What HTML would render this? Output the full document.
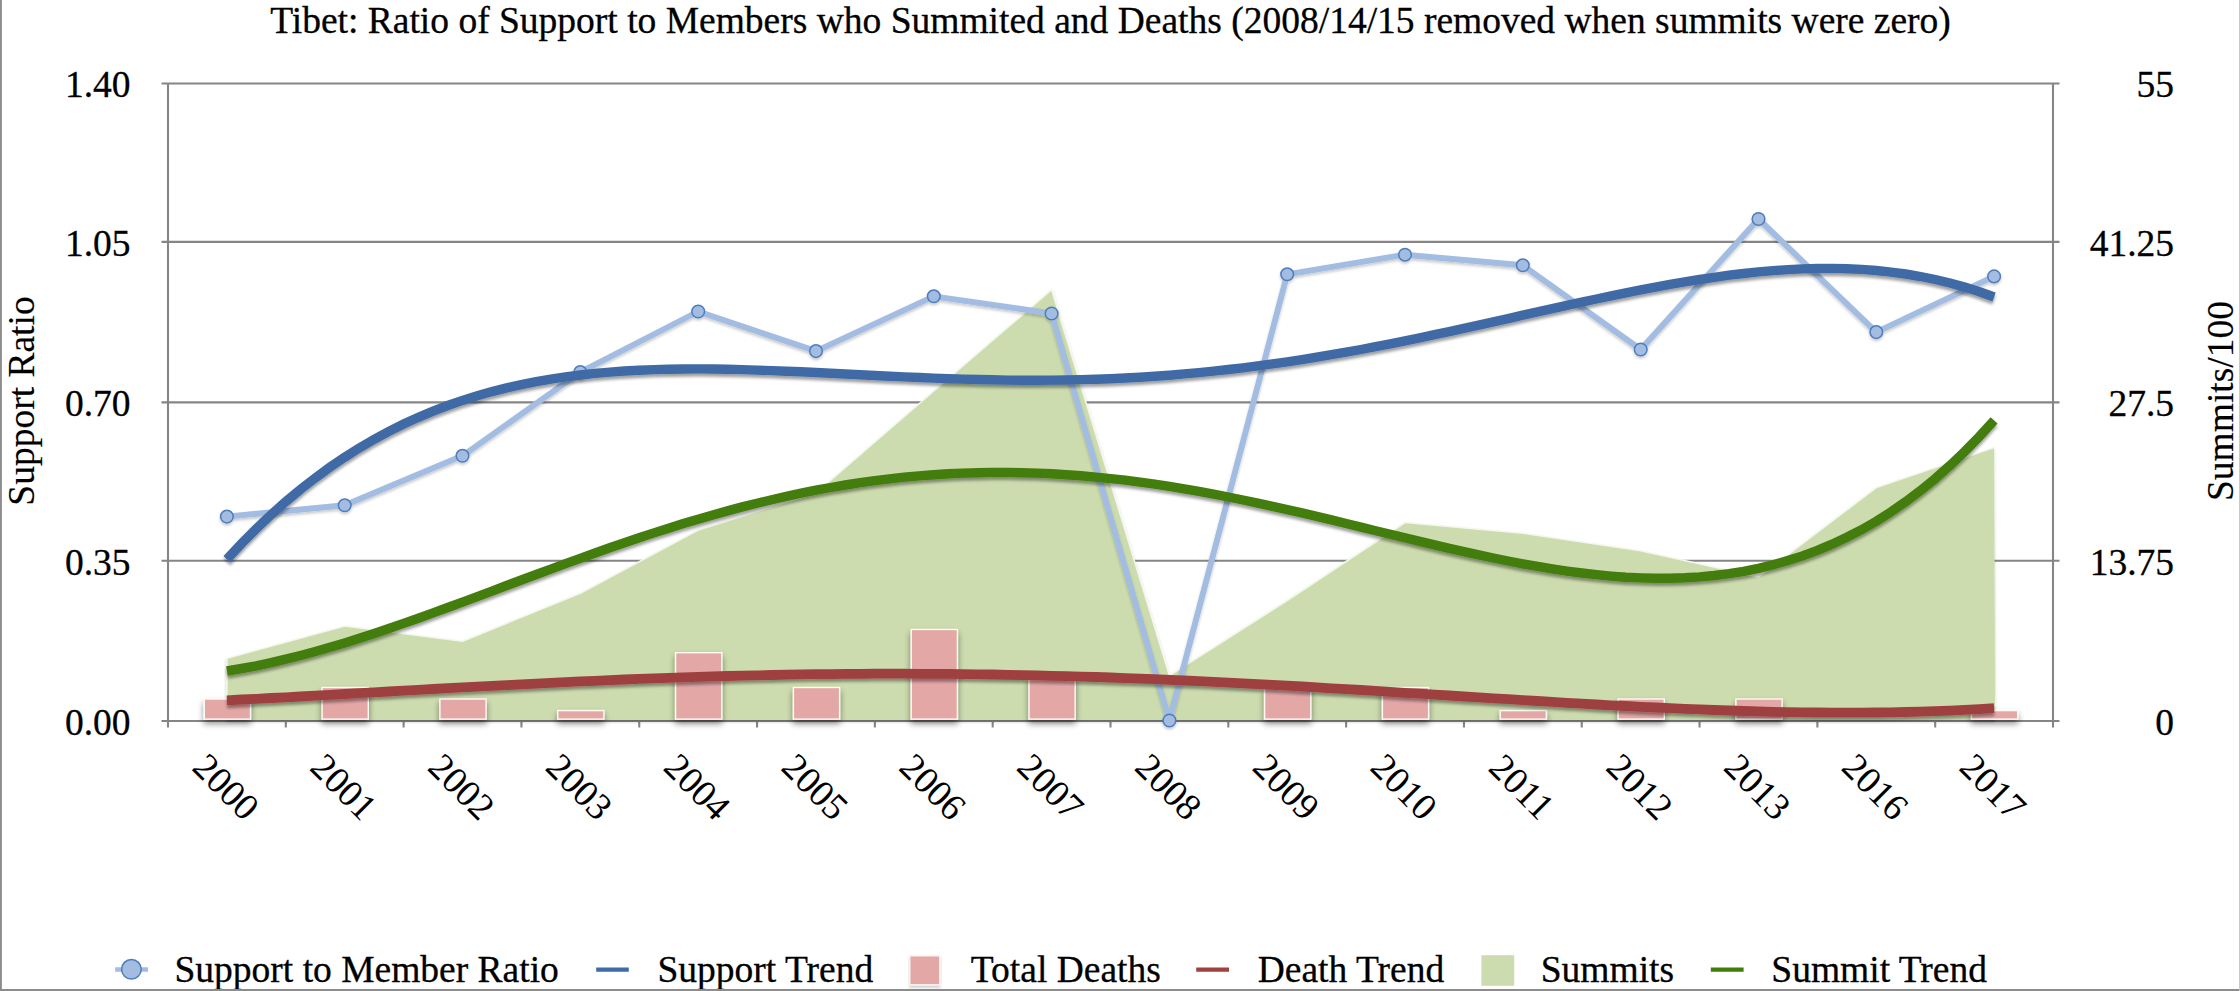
<!DOCTYPE html>
<html><head><meta charset="utf-8"><title>Tibet: Ratio of Support to Members who Summited and Deaths</title>
<style>html,body{margin:0;padding:0;background:#fff;}body{width:2240px;height:991px;overflow:hidden;}svg{display:block;}</style></head>
<body>
<svg width="2240" height="991" viewBox="0 0 2240 991">
<defs>
<filter id="sh" x="-5%" y="-20%" width="110%" height="150%"><feGaussianBlur in="SourceAlpha" stdDeviation="1.8"/><feOffset dx="0" dy="2.6" result="b"/><feComponentTransfer><feFuncA type="linear" slope="0.38"/></feComponentTransfer><feMerge><feMergeNode/><feMergeNode in="SourceGraphic"/></feMerge></filter>
<filter id="shs" x="-5%" y="-20%" width="110%" height="150%"><feGaussianBlur in="SourceAlpha" stdDeviation="1.5"/><feOffset dx="0" dy="2" result="b"/><feComponentTransfer><feFuncA type="linear" slope="0.22"/></feComponentTransfer><feMerge><feMergeNode/><feMergeNode in="SourceGraphic"/></feMerge></filter>
<filter id="shb" x="-20%" y="-20%" width="140%" height="150%"><feGaussianBlur in="SourceAlpha" stdDeviation="3"/><feOffset dx="0" dy="3.6" result="b"/><feComponentTransfer><feFuncA type="linear" slope="0.44"/></feComponentTransfer><feMerge><feMergeNode/><feMergeNode in="SourceGraphic"/></feMerge></filter>
</defs>
<rect x="0" y="0" width="2240" height="991" fill="#fff"/>
<line x1="161.5" y1="83.50" x2="2059.5" y2="83.50" stroke="#858585" stroke-width="2.1"/>
<line x1="161.5" y1="241.90" x2="2059.5" y2="241.90" stroke="#858585" stroke-width="2.1"/>
<line x1="161.5" y1="402.40" x2="2059.5" y2="402.40" stroke="#858585" stroke-width="2.1"/>
<line x1="161.5" y1="560.80" x2="2059.5" y2="560.80" stroke="#858585" stroke-width="2.1"/>
<line x1="161.5" y1="721.00" x2="2059.5" y2="721.00" stroke="#858585" stroke-width="2.1"/>
<line x1="168.0" y1="84.0" x2="168.0" y2="727.5" stroke="#858585" stroke-width="2.1"/>
<line x1="2053.0" y1="84.0" x2="2053.0" y2="727.5" stroke="#858585" stroke-width="2.1"/>
<line x1="285.81" y1="721.0" x2="285.81" y2="727.5" stroke="#858585" stroke-width="2.1"/>
<line x1="403.62" y1="721.0" x2="403.62" y2="727.5" stroke="#858585" stroke-width="2.1"/>
<line x1="521.44" y1="721.0" x2="521.44" y2="727.5" stroke="#858585" stroke-width="2.1"/>
<line x1="639.25" y1="721.0" x2="639.25" y2="727.5" stroke="#858585" stroke-width="2.1"/>
<line x1="757.06" y1="721.0" x2="757.06" y2="727.5" stroke="#858585" stroke-width="2.1"/>
<line x1="874.88" y1="721.0" x2="874.88" y2="727.5" stroke="#858585" stroke-width="2.1"/>
<line x1="992.69" y1="721.0" x2="992.69" y2="727.5" stroke="#858585" stroke-width="2.1"/>
<line x1="1110.50" y1="721.0" x2="1110.50" y2="727.5" stroke="#858585" stroke-width="2.1"/>
<line x1="1228.31" y1="721.0" x2="1228.31" y2="727.5" stroke="#858585" stroke-width="2.1"/>
<line x1="1346.12" y1="721.0" x2="1346.12" y2="727.5" stroke="#858585" stroke-width="2.1"/>
<line x1="1463.94" y1="721.0" x2="1463.94" y2="727.5" stroke="#858585" stroke-width="2.1"/>
<line x1="1581.75" y1="721.0" x2="1581.75" y2="727.5" stroke="#858585" stroke-width="2.1"/>
<line x1="1699.56" y1="721.0" x2="1699.56" y2="727.5" stroke="#858585" stroke-width="2.1"/>
<line x1="1817.38" y1="721.0" x2="1817.38" y2="727.5" stroke="#858585" stroke-width="2.1"/>
<line x1="1935.19" y1="721.0" x2="1935.19" y2="727.5" stroke="#858585" stroke-width="2.1"/>
<g filter="url(#shs)"><polygon points="226.9,719.9 226.9,658.4 344.7,626.1 462.5,641.3 580.3,593.3 698.2,530.0 816.0,493.0 933.8,391.0 1051.6,289.8 1169.4,675.5 1287.2,600.5 1405.0,522.5 1522.8,533.2 1640.7,550.8 1758.5,577.0 1876.3,487.6 1994.1,447.6 1995.1,719.9" fill="#ccdcae"/><polyline points="226.9,719 226.9,658.4 344.7,626.1 462.5,641.3 580.3,593.3 698.2,530.0 816.0,493.0 933.8,391.0 1051.6,289.8 1169.4,675.5 1287.2,600.5 1405.0,522.5 1522.8,533.2 1640.7,550.8 1758.5,577.0 1876.3,487.6 1994.1,447.6" fill="none" stroke="#f4f7ec" stroke-width="1.5" stroke-linejoin="round"/></g>
<g filter="url(#shb)">
<rect x="204.3" y="699.0" width="46.2" height="20.1" fill="#e3a7a6" stroke="#fffaf6" stroke-width="1.4"/>
<rect x="322.1" y="687.5" width="46.2" height="31.6" fill="#e3a7a6" stroke="#fffaf6" stroke-width="1.4"/>
<rect x="439.9" y="699.0" width="46.2" height="20.1" fill="#e3a7a6" stroke="#fffaf6" stroke-width="1.4"/>
<rect x="557.7" y="710.6" width="46.2" height="8.5" fill="#e3a7a6" stroke="#fffaf6" stroke-width="1.4"/>
<rect x="675.6" y="652.7" width="46.2" height="66.4" fill="#e3a7a6" stroke="#fffaf6" stroke-width="1.4"/>
<rect x="793.4" y="687.5" width="46.2" height="31.6" fill="#e3a7a6" stroke="#fffaf6" stroke-width="1.4"/>
<rect x="911.2" y="629.5" width="46.2" height="89.6" fill="#e3a7a6" stroke="#fffaf6" stroke-width="1.4"/>
<rect x="1029.0" y="675.9" width="46.2" height="43.2" fill="#e3a7a6" stroke="#fffaf6" stroke-width="1.4"/>
<rect x="1264.6" y="687.5" width="46.2" height="31.6" fill="#e3a7a6" stroke="#fffaf6" stroke-width="1.4"/>
<rect x="1382.4" y="687.5" width="46.2" height="31.6" fill="#e3a7a6" stroke="#fffaf6" stroke-width="1.4"/>
<rect x="1500.2" y="710.6" width="46.2" height="8.5" fill="#e3a7a6" stroke="#fffaf6" stroke-width="1.4"/>
<rect x="1618.1" y="699.0" width="46.2" height="20.1" fill="#e3a7a6" stroke="#fffaf6" stroke-width="1.4"/>
<rect x="1735.9" y="699.0" width="46.2" height="20.1" fill="#e3a7a6" stroke="#fffaf6" stroke-width="1.4"/>
<rect x="1971.5" y="710.6" width="46.2" height="8.5" fill="#e3a7a6" stroke="#fffaf6" stroke-width="1.4"/>
</g>
<g filter="url(#shs)"><polyline points="226.9,516.6 344.7,505.3 462.5,455.8 580.3,372.1 698.2,311.5 816.0,351.1 933.8,296.3 1051.6,313.5 1169.4,720.5 1287.2,274.3 1405.0,254.7 1522.8,265.3 1640.7,349.5 1758.5,219.0 1876.3,332.1 1994.1,276.4" fill="none" stroke="#a3bce1" stroke-width="5.9" stroke-linejoin="round"/>
<circle cx="226.9" cy="516.6" r="6.3" fill="#a3bce1" stroke="#4f7cbc" stroke-width="1.5"/>
<circle cx="344.7" cy="505.3" r="6.3" fill="#a3bce1" stroke="#4f7cbc" stroke-width="1.5"/>
<circle cx="462.5" cy="455.8" r="6.3" fill="#a3bce1" stroke="#4f7cbc" stroke-width="1.5"/>
<circle cx="580.3" cy="372.1" r="6.3" fill="#a3bce1" stroke="#4f7cbc" stroke-width="1.5"/>
<circle cx="698.2" cy="311.5" r="6.3" fill="#a3bce1" stroke="#4f7cbc" stroke-width="1.5"/>
<circle cx="816.0" cy="351.1" r="6.3" fill="#a3bce1" stroke="#4f7cbc" stroke-width="1.5"/>
<circle cx="933.8" cy="296.3" r="6.3" fill="#a3bce1" stroke="#4f7cbc" stroke-width="1.5"/>
<circle cx="1051.6" cy="313.5" r="6.3" fill="#a3bce1" stroke="#4f7cbc" stroke-width="1.5"/>
<circle cx="1169.4" cy="720.5" r="6.3" fill="#a3bce1" stroke="#4f7cbc" stroke-width="1.5"/>
<circle cx="1287.2" cy="274.3" r="6.3" fill="#a3bce1" stroke="#4f7cbc" stroke-width="1.5"/>
<circle cx="1405.0" cy="254.7" r="6.3" fill="#a3bce1" stroke="#4f7cbc" stroke-width="1.5"/>
<circle cx="1522.8" cy="265.3" r="6.3" fill="#a3bce1" stroke="#4f7cbc" stroke-width="1.5"/>
<circle cx="1640.7" cy="349.5" r="6.3" fill="#a3bce1" stroke="#4f7cbc" stroke-width="1.5"/>
<circle cx="1758.5" cy="219.0" r="6.3" fill="#a3bce1" stroke="#4f7cbc" stroke-width="1.5"/>
<circle cx="1876.3" cy="332.1" r="6.3" fill="#a3bce1" stroke="#4f7cbc" stroke-width="1.5"/>
<circle cx="1994.1" cy="276.4" r="6.3" fill="#a3bce1" stroke="#4f7cbc" stroke-width="1.5"/>
</g>
<g filter="url(#sh)" fill="none" stroke-width="9.4">
<path d="M226.9,559.2 L241.6,543.5 L256.4,528.6 L271.1,514.7 L285.8,501.6 L300.5,489.3 L315.3,477.9 L330.0,467.2 L344.7,457.2 L359.4,447.9 L374.2,439.3 L388.9,431.4 L403.6,424.1 L418.4,417.3 L433.1,411.2 L447.8,405.5 L462.5,400.4 L477.3,395.8 L492.0,391.6 L506.7,387.9 L521.4,384.6 L536.2,381.7 L550.9,379.1 L565.6,376.9 L580.3,375.0 L595.1,373.4 L609.8,372.1 L624.5,371.0 L639.2,370.2 L654.0,369.6 L668.7,369.2 L683.4,369.0 L698.2,368.9 L712.9,369.0 L727.6,369.3 L742.3,369.6 L757.1,370.1 L771.8,370.6 L786.5,371.2 L801.2,371.8 L816.0,372.5 L830.7,373.3 L845.4,374.0 L860.1,374.7 L874.9,375.5 L889.6,376.2 L904.3,376.9 L919.1,377.5 L933.8,378.1 L948.5,378.7 L963.2,379.1 L978.0,379.5 L992.7,379.8 L1007.4,380.1 L1022.1,380.2 L1036.9,380.2 L1051.6,380.1 L1066.3,380.0 L1081.0,379.6 L1095.8,379.2 L1110.5,378.7 L1125.2,378.0 L1140.0,377.2 L1154.7,376.2 L1169.4,375.2 L1184.1,373.9 L1198.9,372.6 L1213.6,371.1 L1228.3,369.5 L1243.0,367.8 L1257.8,365.9 L1272.5,363.9 L1287.2,361.8 L1301.9,359.6 L1316.7,357.2 L1331.4,354.7 L1346.1,352.2 L1360.9,349.5 L1375.6,346.7 L1390.3,343.8 L1405.0,340.9 L1419.8,337.8 L1434.5,334.7 L1449.2,331.6 L1463.9,328.4 L1478.7,325.1 L1493.4,321.9 L1508.1,318.6 L1522.8,315.2 L1537.6,311.9 L1552.3,308.6 L1567.0,305.4 L1581.8,302.1 L1596.5,299.0 L1611.2,295.8 L1625.9,292.8 L1640.7,289.9 L1655.4,287.1 L1670.1,284.4 L1684.8,281.8 L1699.6,279.5 L1714.3,277.3 L1729.0,275.2 L1743.7,273.5 L1758.5,271.9 L1773.2,270.6 L1787.9,269.6 L1802.6,268.9 L1817.4,268.5 L1832.1,268.4 L1846.8,268.7 L1861.6,269.4 L1876.3,270.5 L1891.0,272.1 L1905.7,274.0 L1920.5,276.5 L1935.2,279.5 L1949.9,283.0 L1964.6,287.1 L1979.4,291.8 L1994.1,297.0" stroke="#3f6ba6"/>
<path d="M226.9,700.3 L241.6,699.5 L256.4,698.8 L271.1,698.0 L285.8,697.3 L300.5,696.5 L315.3,695.7 L330.0,694.8 L344.7,694.0 L359.4,693.2 L374.2,692.4 L388.9,691.5 L403.6,690.7 L418.4,689.9 L433.1,689.0 L447.8,688.2 L462.5,687.4 L477.3,686.6 L492.0,685.8 L506.7,685.1 L521.4,684.3 L536.2,683.6 L550.9,682.8 L565.6,682.1 L580.3,681.4 L595.1,680.8 L609.8,680.1 L624.5,679.5 L639.2,678.9 L654.0,678.4 L668.7,677.9 L683.4,677.3 L698.2,676.9 L712.9,676.4 L727.6,676.0 L742.3,675.6 L757.1,675.3 L771.8,675.0 L786.5,674.7 L801.2,674.4 L816.0,674.2 L830.7,674.1 L845.4,673.9 L860.1,673.8 L874.9,673.7 L889.6,673.7 L904.3,673.7 L919.1,673.8 L933.8,673.8 L948.5,673.9 L963.2,674.1 L978.0,674.3 L992.7,674.5 L1007.4,674.8 L1022.1,675.1 L1036.9,675.4 L1051.6,675.8 L1066.3,676.1 L1081.0,676.6 L1095.8,677.0 L1110.5,677.5 L1125.2,678.1 L1140.0,678.6 L1154.7,679.2 L1169.4,679.8 L1184.1,680.5 L1198.9,681.2 L1213.6,681.9 L1228.3,682.6 L1243.0,683.3 L1257.8,684.1 L1272.5,684.9 L1287.2,685.7 L1301.9,686.5 L1316.7,687.4 L1331.4,688.3 L1346.1,689.1 L1360.9,690.0 L1375.6,690.9 L1390.3,691.8 L1405.0,692.8 L1419.8,693.7 L1434.5,694.6 L1449.2,695.5 L1463.9,696.5 L1478.7,697.4 L1493.4,698.3 L1508.1,699.2 L1522.8,700.1 L1537.6,701.0 L1552.3,701.9 L1567.0,702.8 L1581.8,703.6 L1596.5,704.5 L1611.2,705.3 L1625.9,706.0 L1640.7,706.8 L1655.4,707.5 L1670.1,708.2 L1684.8,708.8 L1699.6,709.4 L1714.3,710.0 L1729.0,710.5 L1743.7,711.0 L1758.5,711.4 L1773.2,711.8 L1787.9,712.1 L1802.6,712.3 L1817.4,712.5 L1832.1,712.6 L1846.8,712.6 L1861.6,712.6 L1876.3,712.5 L1891.0,712.3 L1905.7,712.0 L1920.5,711.6 L1935.2,711.1 L1949.9,710.6 L1964.6,709.9 L1979.4,709.1 L1994.1,708.2" stroke="#9f4141" stroke-width="9.8"/>
<path d="M226.9,671.0 L241.6,668.5 L256.4,665.8 L271.1,662.6 L285.8,659.2 L300.5,655.5 L315.3,651.5 L330.0,647.3 L344.7,642.9 L359.4,638.3 L374.2,633.5 L388.9,628.5 L403.6,623.4 L418.4,618.2 L433.1,612.9 L447.8,607.5 L462.5,602.1 L477.3,596.6 L492.0,591.1 L506.7,585.5 L521.4,580.0 L536.2,574.5 L550.9,569.1 L565.6,563.7 L580.3,558.3 L595.1,553.0 L609.8,547.8 L624.5,542.8 L639.2,537.8 L654.0,532.9 L668.7,528.2 L683.4,523.6 L698.2,519.2 L712.9,514.9 L727.6,510.9 L742.3,506.9 L757.1,503.2 L771.8,499.7 L786.5,496.3 L801.2,493.2 L816.0,490.2 L830.7,487.5 L845.4,485.0 L860.1,482.7 L874.9,480.7 L889.6,478.8 L904.3,477.2 L919.1,475.9 L933.8,474.7 L948.5,473.8 L963.2,473.1 L978.0,472.7 L992.7,472.4 L1007.4,472.4 L1022.1,472.7 L1036.9,473.1 L1051.6,473.8 L1066.3,474.7 L1081.0,475.8 L1095.8,477.1 L1110.5,478.6 L1125.2,480.2 L1140.0,482.1 L1154.7,484.2 L1169.4,486.4 L1184.1,488.8 L1198.9,491.4 L1213.6,494.1 L1228.3,497.0 L1243.0,500.0 L1257.8,503.1 L1272.5,506.3 L1287.2,509.6 L1301.9,512.9 L1316.7,516.4 L1331.4,519.9 L1346.1,523.5 L1360.9,527.1 L1375.6,530.7 L1390.3,534.3 L1405.0,537.8 L1419.8,541.4 L1434.5,544.9 L1449.2,548.3 L1463.9,551.7 L1478.7,554.9 L1493.4,558.0 L1508.1,561.0 L1522.8,563.8 L1537.6,566.4 L1552.3,568.9 L1567.0,571.1 L1581.8,573.0 L1596.5,574.7 L1611.2,576.1 L1625.9,577.2 L1640.7,577.9 L1655.4,578.3 L1670.1,578.2 L1684.8,577.8 L1699.6,576.9 L1714.3,575.5 L1729.0,573.7 L1743.7,571.3 L1758.5,568.3 L1773.2,564.8 L1787.9,560.6 L1802.6,555.9 L1817.4,550.4 L1832.1,544.2 L1846.8,537.3 L1861.6,529.7 L1876.3,521.2 L1891.0,511.9 L1905.7,501.7 L1920.5,490.6 L1935.2,478.6 L1949.9,465.6 L1964.6,451.6 L1979.4,436.5 L1994.1,420.4" stroke="#427d09"/>
</g>
<g font-family="Liberation Serif, Times New Roman, serif" font-size="37.5" fill="#000" stroke="#000" stroke-width="0.3">
<text x="1110.5" y="32.5" text-anchor="middle">Tibet: Ratio of Support to Members who Summited and Deaths (2008/14/15 removed when summits were zero)</text>
<text x="130.5" y="97.3" text-anchor="end">1.40</text>
<text x="130.5" y="255.7" text-anchor="end">1.05</text>
<text x="130.5" y="416.2" text-anchor="end">0.70</text>
<text x="130.5" y="574.6" text-anchor="end">0.35</text>
<text x="130.5" y="734.8" text-anchor="end">0.00</text>
<text x="2174" y="97.3" text-anchor="end">55</text>
<text x="2174" y="255.7" text-anchor="end">41.25</text>
<text x="2174" y="416.2" text-anchor="end">27.5</text>
<text x="2174" y="574.6" text-anchor="end">13.75</text>
<text x="2174" y="734.8" text-anchor="end">0</text>
<text transform="translate(33.5,401) rotate(-90)" text-anchor="middle" stroke-width="0.15">Support Ratio</text>
<text transform="translate(2232.5,401) rotate(-90)" text-anchor="middle" stroke-width="0.15">Summits/100</text>
<text transform="translate(226.0,786.8) rotate(45)" text-anchor="middle" y="12.5" stroke="none">2000</text>
<text transform="translate(343.8,786.8) rotate(45)" text-anchor="middle" y="12.5" stroke="none">2001</text>
<text transform="translate(461.6,786.8) rotate(45)" text-anchor="middle" y="12.5" stroke="none">2002</text>
<text transform="translate(579.4,786.8) rotate(45)" text-anchor="middle" y="12.5" stroke="none">2003</text>
<text transform="translate(697.3,786.8) rotate(45)" text-anchor="middle" y="12.5" stroke="none">2004</text>
<text transform="translate(815.1,786.8) rotate(45)" text-anchor="middle" y="12.5" stroke="none">2005</text>
<text transform="translate(932.9,786.8) rotate(45)" text-anchor="middle" y="12.5" stroke="none">2006</text>
<text transform="translate(1050.7,786.8) rotate(45)" text-anchor="middle" y="12.5" stroke="none">2007</text>
<text transform="translate(1168.5,786.8) rotate(45)" text-anchor="middle" y="12.5" stroke="none">2008</text>
<text transform="translate(1286.3,786.8) rotate(45)" text-anchor="middle" y="12.5" stroke="none">2009</text>
<text transform="translate(1404.1,786.8) rotate(45)" text-anchor="middle" y="12.5" stroke="none">2010</text>
<text transform="translate(1521.9,786.8) rotate(45)" text-anchor="middle" y="12.5" stroke="none">2011</text>
<text transform="translate(1639.8,786.8) rotate(45)" text-anchor="middle" y="12.5" stroke="none">2012</text>
<text transform="translate(1757.6,786.8) rotate(45)" text-anchor="middle" y="12.5" stroke="none">2013</text>
<text transform="translate(1875.4,786.8) rotate(45)" text-anchor="middle" y="12.5" stroke="none">2016</text>
<text transform="translate(1993.2,786.8) rotate(45)" text-anchor="middle" y="12.5" stroke="none">2017</text>
<text x="174.5" y="982.3">Support to Member Ratio</text>
<text x="657.5" y="982.3">Support Trend</text>
<text x="970.8" y="982.3">Total Deaths</text>
<text x="1257.7" y="982.3">Death Trend</text>
<text x="1540.7" y="982.3">Summits</text>
<text x="1771.3" y="982.3">Summit Trend</text>
</g>
<line x1="115.2" y1="969.5" x2="148" y2="969.5" stroke="#a3bce1" stroke-width="4.6"/><circle cx="131.4" cy="969.3" r="9.8" fill="#a3bce1" stroke="#4f7cbc" stroke-width="1.5"/>
<line x1="596.2" y1="969.6" x2="628.8" y2="969.6" stroke="#3f6ba6" stroke-width="4.2"/>
<rect x="909.8" y="955.8" width="30" height="29" fill="#e3a7a6" stroke="#fbf3ef" stroke-width="1.4" filter="url(#shs)"/>
<line x1="1196.2" y1="969.6" x2="1229" y2="969.6" stroke="#9f4141" stroke-width="4.2"/>
<rect x="1481.4" y="955.2" width="32.8" height="30.6" fill="#ccdcae"/>
<line x1="1710.8" y1="969.6" x2="1743.6" y2="969.6" stroke="#427d09" stroke-width="4.2"/>
<rect x="0" y="0" width="1.9" height="991" fill="#8c8c8c"/>
<rect x="0" y="989" width="2240" height="2" fill="#8c8c8c"/>
<rect x="2239" y="0" width="1" height="991" fill="#c9c9c9"/>
</svg>
</body></html>
